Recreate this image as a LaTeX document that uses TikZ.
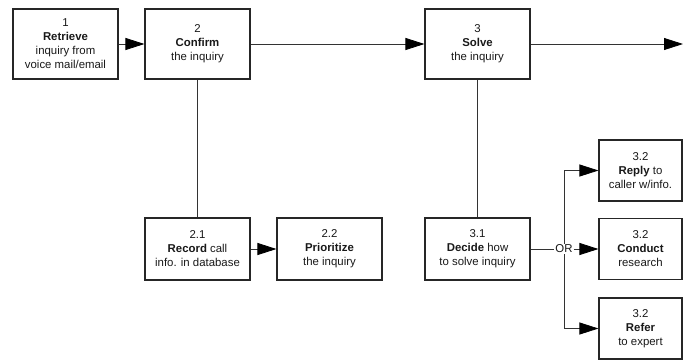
\documentclass[tikz,border=0pt]{standalone}
\usepackage{fontspec}
\setmainfont{Liberation Sans}
\usetikzlibrary{arrows.meta}
\begin{document}
\begin{tikzpicture}[x=1pt,y=-1pt,
  box/.style={draw=black!85, line width=1.1pt, fill=white, align=center,
    inner sep=0pt, minimum width=105pt, text=black!90,
    font=\fontsize{11.4}{14}\selectfont},
  topbox/.style={box, minimum height=70pt},
  lowbox/.style={box, minimum height=62pt},
  sidebox/.style={box, minimum width=83pt, minimum height=61pt},
  link/.style={draw=black!80, line width=0.8pt},
  arr/.style={link, -{Triangle[length=19pt,width=12pt,color=black]}}
]
\useasboundingbox (0,0) rectangle (683,360);

% main sequence
\node[topbox] (s1) at (65.5,44) {1\\\textbf{Retrieve}\\inquiry from\\voice mail/email};
\node[topbox] (s2) at (197.5,44) {2\\\textbf{Confirm}\\the inquiry};
\node[topbox] (s3) at (477.5,44) {3\\\textbf{Solve}\\the inquiry};
\coordinate (out) at (683,44);

% sub-steps
\node[lowbox] (s21) at (197.5,249) {2.1\\\textbf{Record} call\\info. in database};
\node[lowbox] (s22) at (329.5,249) {2.2\\\textbf{Prioritize}\\the inquiry};
\node[lowbox] (s31) at (477.5,249) {3.1\\\textbf{Decide} how\\to solve inquiry};

% alternatives
\node[sidebox] (r1) at (640.5,170.5) {3.2\\\textbf{Reply} to\\caller w/info.};
\node[sidebox] (r2) at (640.5,249) {3.2\\\textbf{Conduct}\\research};
\node[sidebox] (r3) at (640.5,328.5) {3.2\\\textbf{Refer}\\to expert};
\node[fill=white, inner sep=1pt, text=black!90, font=\fontsize{11.4}{14}\selectfont] (or) at (564,249) {OR};

% connectors
\draw[arr] (s1) -- (s2);
\draw[arr] (s2) -- (s3);
\draw[arr] (s3.east) -- (out);
\draw[link] (s2.south) -- (s21.north);
\draw[link] (s3.south) -- (s31.north);
\draw[arr] (s21) -- (s22);
\draw[link] (s31.east) -- (or.west);
\draw[arr] (or.east) -- (r2.west);
\draw[arr] (or.north) |- (r1.west);
\draw[arr] (or.south) |- (r3.west);
\end{tikzpicture}
\end{document}
